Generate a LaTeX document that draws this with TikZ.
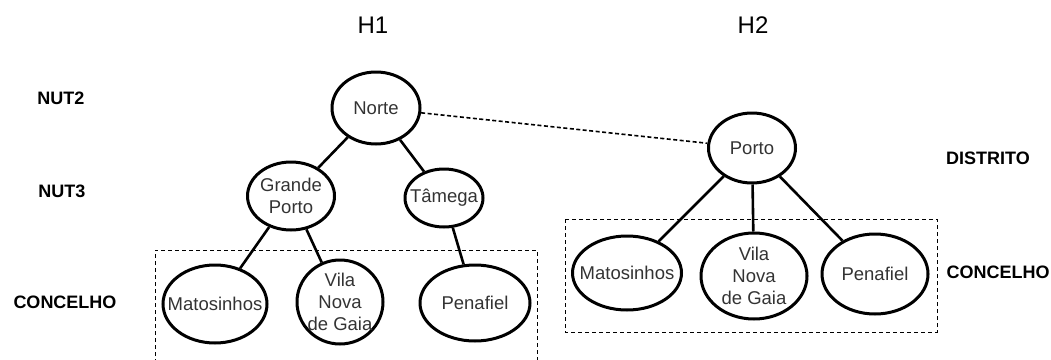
\documentclass[tikz,border=0pt]{standalone}
\usepackage{fontspec}
\setmainfont{Liberation Sans}
\usetikzlibrary{shapes.geometric}
\begin{document}
\begin{tikzpicture}[x=1pt,y=-1pt,
  unit/.style={draw, ellipse, line width=3pt, inner sep=0pt},
  utext/.style={align=center, inner sep=0pt,
    font=\fontsize{18.5}{22}\selectfont, text=black!80},
  level/.style={font=\fontsize{18}{22}\selectfont\bfseries},
  title/.style={font=\fontsize{24}{28}\selectfont},
  link/.style={line width=2.6pt},
  frame/.style={line width=1pt, dash pattern=on 4pt off 3pt}]
\useasboundingbox (0,0) rectangle (1051,359);

% hierarchy titles
\node[title] (h1) at (373,25) {H1};
\node[title] (h2) at (753,25) {H2};

% level labels
\node[level] (nut2) at (61,98) {NUT2};
\node[level] (nut3) at (62,191) {NUT3};
\node[level] (conc1) at (65,302) {CONCELHO};
\node[level] (distrito) at (988,158) {DISTRITO};
\node[level] (conc2) at (998,272) {CONCELHO};

% municipality frames (the left one runs off the bottom edge)
\begin{scope}
\clip (0,0) rectangle (1051,359);
\draw[frame] (155,370) -- (155,250) -- (537,250) -- (537,370);
\end{scope}
\draw[frame] (565,219) rectangle (937,332);

% H1 tree
\node[unit, minimum width=88pt, minimum height=72pt,
  label={[utext]center:Norte}] (norte) at (376,108) {};
\node[unit, minimum width=87pt, minimum height=68pt,
  label={[utext]center:{Grande\\Porto}}] (gporto) at (291,196) {};
\node[unit, minimum width=78pt, minimum height=58pt,
  label={[utext]center:Tâmega}] (tamega) at (444,198) {};
\node[unit, minimum width=104pt, minimum height=78pt,
  label={[utext]center:Matosinhos}] (mat1) at (215,304) {};
\node[unit, minimum width=86pt, minimum height=84pt,
  label={[utext]center:{Vila\\Nova\\de Gaia}}] (vng1) at (340,302) {};
\node[unit, minimum width=110pt, minimum height=76pt,
  label={[utext]center:Penafiel}] (pen1) at (475,303) {};

% H2 tree
\node[unit, minimum width=87pt, minimum height=70pt,
  label={[utext]center:Porto}] (porto) at (752,148) {};
\node[unit, minimum width=109pt, minimum height=74pt,
  label={[utext]center:Matosinhos}] (mat2) at (627,273) {};
\node[unit, minimum width=106pt, minimum height=86pt,
  label={[utext]center:{Vila\\Nova\\de Gaia}}] (vng2) at (754,276) {};
\node[unit, minimum width=106pt, minimum height=80pt,
  label={[utext]center:Penafiel}] (pen2) at (875,274) {};

% connectors
\draw[link] (norte) -- (gporto);
\draw[link] (norte) -- (tamega);
\draw[link] (gporto) -- (mat1);
\draw[link] (gporto) -- (vng1);
\draw[link] (tamega) -- (pen1);
\draw[link] (porto) -- (mat2);
\draw[link] (porto) -- (vng2);
\draw[link] (porto) -- (pen2);
\draw[line width=1.6pt, dash pattern=on 4pt off 2.5pt] (norte) -- (porto);
\end{tikzpicture}
\end{document}
